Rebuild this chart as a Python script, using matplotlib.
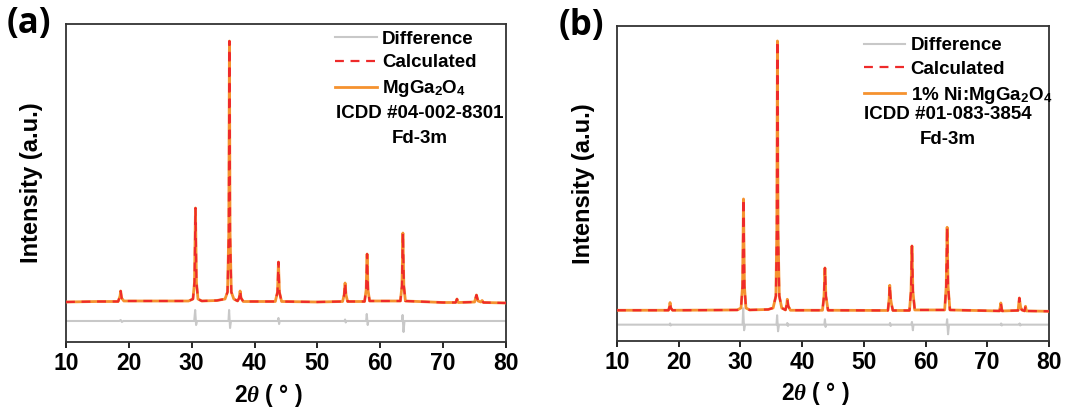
import matplotlib
matplotlib.use('Agg')
import matplotlib.pyplot as plt

plt.rcParams['font.family'] = ['Liberation Sans', 'DejaVu Sans']
plt.rcParams['font.weight'] = 'bold'
plt.rcParams['mathtext.fontset'] = 'custom'
plt.rcParams['mathtext.rm'] = 'Liberation Sans:bold'
plt.rcParams['mathtext.bf'] = 'Liberation Sans:bold'
plt.rcParams['mathtext.it'] = 'Liberation Serif:italic'

############################################################################################

# (a) MgGa2O4 - observed / calculated profile (2theta, intensity a.u.)
twoThetaA = [10, 15, 18.3, 18.6, 18.7, 18.85, 19.2, 25, 29.5, 30.2, 30.45, 30.6, 30.75, 31.0, 31.6,
             34, 35.3, 35.7, 35.9, 36.0, 36.1, 36.3, 36.7, 37.3, 37.55, 37.7, 37.85, 38.2,
             43.3, 43.65, 43.8, 43.95, 44.3, 50, 54.0, 54.25, 54.4, 54.55, 54.8,
             57.5, 57.75, 57.9, 58.05, 58.3, 63.2, 63.45, 63.6, 63.75, 64.0,
             70, 72.0, 72.2, 72.4, 75.0, 75.3, 75.55, 76.0, 76.2, 76.4, 80]
obsA = [40, 40.5, 40.5, 46, 51, 44, 41, 41, 41, 43, 60, 134, 60, 43, 41,
        41.5, 43, 50, 110, 301, 110, 50, 43, 41, 44, 51, 44, 40.5,
        40.5, 50, 80, 50, 40.5, 40, 40.5, 47, 59, 47, 40.5,
        40.5, 52, 88, 52, 41, 41, 56, 109, 56, 41,
        39.5, 39.5, 43, 39.5, 40, 47, 41, 40, 41.5, 39.5, 39]
calcA = obsA

# (a) difference curve
twoThetaDiffA = [10, 18.5, 18.7, 18.9, 19.1, 30.4, 30.55, 30.7, 30.85, 35.85, 35.95, 36.1, 36.25,
                 43.7, 43.8, 43.9, 44.0, 54.3, 54.4, 54.5, 54.6, 57.75, 57.85, 58.0, 58.1,
                 63.45, 63.55, 63.7, 63.85, 80]
diffA = [21, 21, 22, 20, 21, 21, 32, 17, 21, 21, 32, 14, 21,
         21, 24, 18, 21, 21, 22.5, 19.5, 21, 21, 28, 17, 21,
         21, 27, 10, 21, 21]

# (b) 1% Ni:MgGa2O4 - observed / calculated profile
twoThetaB = [10, 18.35, 18.5, 18.6, 18.72, 19.0, 29.5, 30.1, 30.35, 30.5, 30.65, 30.9, 31.5,
             34.5, 35.3, 35.75, 35.9, 36.0, 36.1, 36.3, 36.7, 37.3, 37.5, 37.6, 37.75, 38.1,
             43.3, 43.55, 43.7, 43.85, 44.2, 53.9, 54.1, 54.2, 54.35, 54.45, 54.7,
             57.4, 57.65, 57.8, 57.95, 58.25, 63.1, 63.35, 63.5, 63.65, 63.95,
             72.0, 72.2, 72.4, 75.0, 75.2, 75.4, 75.6, 76.05, 76.2, 76.35, 80]
obsB = [30.7, 30.7, 34, 38.4, 33, 30.7, 31, 33, 55, 142, 55, 33, 31,
        31.5, 33, 45, 110, 300, 110, 45, 33, 31, 36, 41.7, 35, 30.7,
        30.7, 45, 73, 45, 30.7, 30.5, 42, 55.7, 42, 38, 30.5,
        30.5, 50, 95, 50, 31, 31, 55, 113.7, 55, 31,
        30, 38, 30, 30.5, 43, 34, 31, 30, 34.7, 30, 29.7]
calcB = obsB

# (b) difference curve
twoThetaDiffB = [10, 18.5, 18.6, 18.7, 18.8, 30.35, 30.45, 30.6, 30.75, 35.85, 35.95, 36.1, 36.25,
                 37.55, 37.6, 37.7, 37.8, 43.6, 43.7, 43.8, 43.9, 54.15, 54.25, 54.35, 54.45,
                 57.7, 57.8, 57.95, 58.05, 63.4, 63.5, 63.65, 63.8,
                 72.2, 72.25, 72.35, 72.45, 75.2, 75.25, 75.35, 75.45, 80]
diffB = [16.3, 16.3, 17.5, 15.5, 16.3, 16.3, 32.7, 10.7, 16.3, 16.3, 25.7, 9.7, 16.3,
         16.3, 18, 15, 16.3, 16.3, 21.7, 14, 16.3, 16.3, 18, 15, 16.3,
         16.3, 19, 10.7, 16.3, 16.3, 21.7, 6.7, 16.3,
         16.3, 17.5, 15.5, 16.3, 16.3, 17.5, 15.5, 16.3, 16.3]

xTicks = [10, 20, 30, 40, 50, 60, 70, 80]

############################################################################################

ORANGE = '#F5922F'
RED = '#EE2A2A'
GRAY = '#C8C8C8'

def panel(ax, tt, obs, calc, ttDiff, diff, yMax, phase, icdd, textX, legX, legY, tag):
    ax.plot(ttDiff, diff, color=GRAY, lw=1.5, label='Difference')
    ax.plot(tt, obs, color=ORANGE, lw=2.0, zorder=3)
    ax.plot(tt, calc, color=RED, lw=1.6, dashes=(4, 3), label='Calculated', zorder=4)
    ax.plot([], [], color=ORANGE, lw=2.0, label=phase)

    ax.set_xlim(10, 80)
    ax.set_ylim(0, yMax)
    ax.set_xticks(xTicks)
    ax.set_yticks([])
    ax.tick_params(axis='x', direction='out', length=4, width=1.2, labelsize=16.5, pad=3)
    for lbl in ax.get_xticklabels():
        lbl.set_fontweight('bold')
    for s in ax.spines.values():
        s.set_color('#333333')
        s.set_linewidth(1.3)

    ax.set_xlabel(r'2$\mathit{\theta}$ ( ° )', fontsize=16.5, fontweight='bold')
    ax.xaxis.set_label_coords(0.46, -0.125)
    ax.set_ylabel('Intensity (a.u.)', fontsize=17, fontweight='bold')
    ax.yaxis.set_label_coords(-0.052, 0.5)

    leg = ax.legend(loc='upper left', bbox_to_anchor=(legX, legY), frameon=False,
                    fontsize=13.5, handlelength=2.2, handletextpad=0.3, labelspacing=0.36,
                    borderpad=0, borderaxespad=0)
    for t in leg.get_texts():
        t.set_fontweight('bold')

    ax.text(textX, 0.72, icdd, transform=ax.transAxes, ha='center', va='center',
            fontsize=13.5, fontweight='bold')
    ax.text(textX, 0.64, 'Fd-3m', transform=ax.transAxes, ha='center', va='center',
            fontsize=13.5, fontweight='bold')

    ax.text(-0.135, 1.0, tag, transform=ax.transAxes, ha='left', va='center',
            fontsize=25, fontweight='bold', family=['Open Sans', 'DejaVu Sans'])

fig = plt.figure(figsize=(10.87, 4.08), dpi=100)
axA = fig.add_axes([0.0607, 0.1618, 0.4048, 0.7792])
axB = fig.add_axes([0.5676, 0.1643, 0.3974, 0.7721])

panel(axA, twoThetaA, obsA, calcA, twoThetaDiffA, diffA, 318,
      r'MgGa$_2$O$_4$', 'ICDD #04-002-8301', 0.803, 0.612, 0.98, '(a)')
panel(axB, twoThetaB, obsB, calcB, twoThetaDiffB, diffB, 315,
      r'1% Ni:MgGa$_2$O$_4$', 'ICDD #01-083-3854', 0.766, 0.571, 0.965, '(b)')

fig.savefig('out.png', dpi=100)
